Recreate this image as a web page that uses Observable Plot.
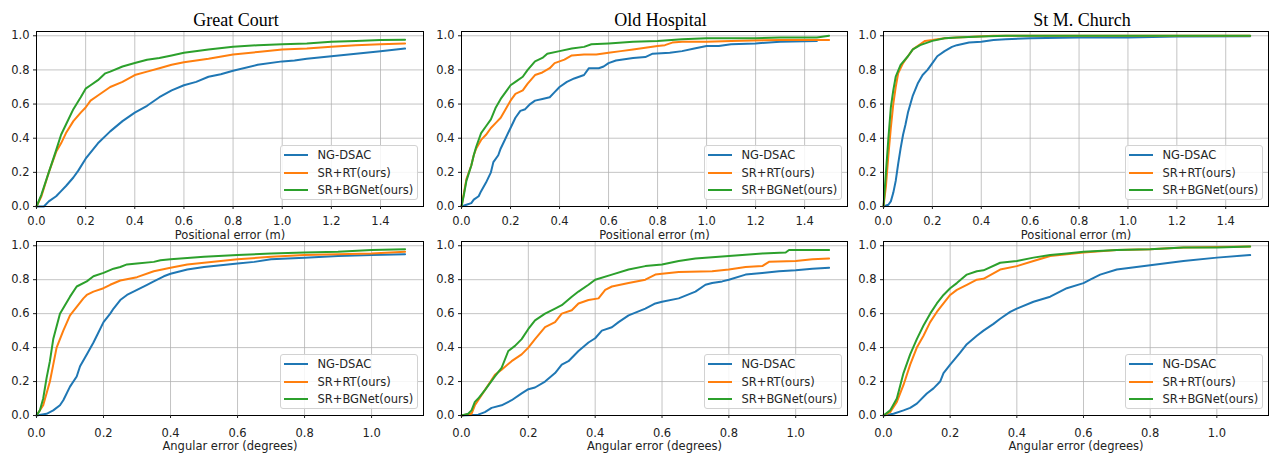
<!DOCTYPE html>
<html><head><meta charset="utf-8">
<script src="https://cdn.jsdelivr.net/npm/d3@7"></script>
<script src="https://cdn.jsdelivr.net/npm/@observablehq/plot@0.6"></script>
<style>
body{margin:0;background:#fff;}
#chart{position:relative;width:1273px;height:458px;overflow:hidden;background:#fff;}
.panel{position:absolute;}
.legend{position:absolute;width:138px;height:55px;box-sizing:border-box;background:rgba(255,255,255,0.85);border:1px solid #d2d2d2;border-radius:3px;font:11.5px "DejaVu Sans",sans-serif;color:#262626;padding-top:1px;}
.legend .row{height:17.5px;display:flex;align-items:center;white-space:nowrap;}
.legend .sw{width:24px;height:2px;margin-left:3px;margin-right:10px;flex:none;}
</style></head>
<body><div id="chart"></div>
<script>
const scenes = ["Great Court", "Old Hospital", "St M. Church"];
const methods = ["NG-DSAC", "SR+RT(ours)", "SR+BGNet(ours)"];
const colors = ["#1f77b4", "#ff7f0e", "#2ca02c"];
const yTicks = [0, 0.2, 0.4, 0.6, 0.8, 1.0];
const posTicks = [0, 0.2, 0.4, 0.6, 0.8, 1.0, 1.2, 1.4];
const angTicks = [0, 0.2, 0.4, 0.6, 0.8, 1.0];
const posLabel = "Positional error (m)";
const angLabel = "Angular error (degrees)";

// Great Court, positional
const gcPosNG = [[0,0],[0.03,0],[0.05,0.03],[0.08,0.06],[0.1,0.09],[0.12,0.12],[0.15,0.17],[0.17,0.21],[0.2,0.28],[0.25,0.37],[0.3,0.44],[0.35,0.5],[0.4,0.55],[0.45,0.59],[0.5,0.64],[0.55,0.68],[0.6,0.71],[0.65,0.73],[0.7,0.76],[0.75,0.775],[0.8,0.795],[0.9,0.83],[1.0,0.85],[1.05,0.855],[1.1,0.865],[1.2,0.88],[1.3,0.895],[1.4,0.91],[1.5,0.925]];
const gcPosRT = [[0,0],[0.02,0.06],[0.05,0.2],[0.08,0.32],[0.1,0.37],[0.12,0.43],[0.15,0.5],[0.18,0.55],[0.2,0.58],[0.22,0.62],[0.25,0.65],[0.3,0.7],[0.35,0.73],[0.4,0.77],[0.45,0.79],[0.5,0.81],[0.55,0.83],[0.6,0.845],[0.7,0.865],[0.8,0.89],[0.9,0.905],[1.0,0.92],[1.1,0.925],[1.2,0.935],[1.3,0.945],[1.4,0.95],[1.5,0.955]];
const gcPosBG = [[0,0],[0.02,0.07],[0.05,0.2],[0.08,0.33],[0.1,0.42],[0.12,0.48],[0.15,0.57],[0.18,0.64],[0.2,0.69],[0.22,0.71],[0.25,0.74],[0.28,0.78],[0.3,0.79],[0.35,0.82],[0.4,0.84],[0.45,0.86],[0.5,0.87],[0.55,0.885],[0.6,0.9],[0.7,0.92],[0.8,0.935],[0.9,0.945],[1.0,0.95],[1.1,0.955],[1.2,0.965],[1.3,0.97],[1.4,0.975],[1.5,0.977]];
// Old Hospital, positional
const ohPosNG = [[0,0],[0.02,0.01],[0.04,0.02],[0.05,0.04],[0.07,0.06],[0.08,0.09],[0.1,0.14],[0.12,0.2],[0.13,0.26],[0.15,0.3],[0.16,0.34],[0.18,0.4],[0.2,0.46],[0.22,0.52],[0.24,0.56],[0.26,0.57],[0.28,0.6],[0.3,0.62],[0.33,0.63],[0.36,0.64],[0.38,0.67],[0.4,0.7],[0.43,0.73],[0.46,0.75],[0.5,0.77],[0.52,0.81],[0.56,0.81],[0.58,0.82],[0.6,0.84],[0.63,0.855],[0.7,0.87],[0.75,0.875],[0.78,0.895],[0.85,0.9],[0.9,0.91],[0.95,0.925],[1.0,0.94],[1.05,0.94],[1.1,0.95],[1.2,0.955],[1.3,0.965],[1.45,0.97]];
const ohPosRT = [[0,0],[0.01,0.08],[0.02,0.16],[0.04,0.24],[0.05,0.3],[0.06,0.34],[0.08,0.39],[0.1,0.42],[0.12,0.46],[0.14,0.49],[0.16,0.52],[0.18,0.57],[0.2,0.62],[0.22,0.66],[0.25,0.68],[0.27,0.72],[0.3,0.77],[0.33,0.785],[0.36,0.81],[0.38,0.84],[0.4,0.85],[0.42,0.86],[0.45,0.885],[0.5,0.89],[0.55,0.89],[0.6,0.9],[0.65,0.91],[0.7,0.92],[0.75,0.93],[0.8,0.94],[0.83,0.945],[0.86,0.96],[0.9,0.965],[1.0,0.965],[1.1,0.97],[1.3,0.975],[1.5,0.975]];
const ohPosBG = [[0,0],[0.01,0.07],[0.02,0.15],[0.04,0.24],[0.05,0.3],[0.06,0.35],[0.08,0.43],[0.1,0.47],[0.12,0.51],[0.14,0.58],[0.16,0.63],[0.18,0.67],[0.2,0.71],[0.22,0.73],[0.25,0.76],[0.27,0.8],[0.3,0.85],[0.33,0.87],[0.35,0.895],[0.4,0.91],[0.45,0.925],[0.5,0.935],[0.53,0.95],[0.6,0.955],[0.7,0.965],[0.8,0.97],[0.9,0.98],[1.0,0.985],[1.2,0.985],[1.3,0.99],[1.45,0.99],[1.5,1.0]];
// St M. Church, positional
const smPosNG = [[0,0],[0.02,0.01],[0.03,0.03],[0.04,0.08],[0.05,0.15],[0.06,0.25],[0.07,0.34],[0.08,0.42],[0.09,0.48],[0.1,0.55],[0.12,0.65],[0.14,0.72],[0.16,0.77],[0.18,0.8],[0.2,0.84],[0.22,0.88],[0.25,0.91],[0.28,0.935],[0.3,0.945],[0.35,0.96],[0.4,0.965],[0.45,0.975],[0.5,0.98],[0.6,0.985],[0.8,0.99],[1.0,0.99],[1.2,0.995],[1.5,0.997]];
const smPosRT = [[0,0],[0.01,0.12],[0.02,0.3],[0.03,0.46],[0.04,0.6],[0.05,0.7],[0.06,0.78],[0.08,0.84],[0.1,0.88],[0.12,0.92],[0.15,0.95],[0.17,0.97],[0.2,0.975],[0.25,0.985],[0.3,0.99],[0.45,1.0],[1.5,1.0]];
const smPosBG = [[0,0],[0.01,0.2],[0.02,0.4],[0.03,0.58],[0.04,0.68],[0.05,0.76],[0.07,0.83],[0.1,0.88],[0.12,0.92],[0.15,0.945],[0.2,0.97],[0.25,0.985],[0.3,0.99],[0.4,0.995],[0.5,1.0],[1.5,1.0]];
// Great Court, angular
const gcAngNG = [[0,0],[0.03,0.01],[0.05,0.03],[0.07,0.06],[0.08,0.09],[0.1,0.17],[0.12,0.23],[0.13,0.29],[0.15,0.36],[0.17,0.43],[0.18,0.47],[0.2,0.55],[0.22,0.6],[0.23,0.63],[0.25,0.68],[0.27,0.71],[0.3,0.74],[0.33,0.77],[0.35,0.79],[0.38,0.82],[0.4,0.835],[0.45,0.86],[0.5,0.875],[0.55,0.885],[0.6,0.895],[0.65,0.905],[0.7,0.92],[0.8,0.93],[0.9,0.94],[1.0,0.945],[1.1,0.95]];
const gcAngRT = [[0,0],[0.02,0.06],[0.04,0.2],[0.05,0.3],[0.06,0.4],[0.08,0.5],[0.1,0.59],[0.12,0.64],[0.14,0.69],[0.15,0.71],[0.17,0.73],[0.2,0.75],[0.22,0.77],[0.25,0.795],[0.3,0.815],[0.35,0.85],[0.4,0.87],[0.45,0.89],[0.5,0.9],[0.6,0.92],[0.7,0.935],[0.8,0.945],[0.9,0.95],[1.0,0.955],[1.1,0.965]];
const gcAngBG = [[0,0],[0.01,0.03],[0.02,0.1],[0.03,0.22],[0.04,0.32],[0.05,0.45],[0.07,0.6],[0.1,0.7],[0.12,0.76],[0.15,0.79],[0.17,0.82],[0.2,0.84],[0.23,0.865],[0.25,0.875],[0.27,0.89],[0.3,0.895],[0.35,0.905],[0.37,0.915],[0.4,0.92],[0.5,0.935],[0.6,0.945],[0.7,0.955],[0.8,0.96],[0.9,0.965],[1.0,0.975],[1.1,0.98]];
// Old Hospital, angular
const ohAngNG = [[0,0],[0.05,0.005],[0.07,0.02],[0.09,0.045],[0.12,0.06],[0.15,0.09],[0.18,0.13],[0.2,0.155],[0.22,0.165],[0.25,0.2],[0.28,0.25],[0.3,0.3],[0.32,0.32],[0.35,0.38],[0.38,0.43],[0.4,0.455],[0.42,0.5],[0.45,0.52],[0.47,0.55],[0.5,0.59],[0.55,0.63],[0.58,0.66],[0.6,0.67],[0.65,0.69],[0.7,0.73],[0.73,0.77],[0.75,0.78],[0.78,0.79],[0.8,0.8],[0.85,0.83],[0.9,0.84],[0.95,0.85],[1.0,0.855],[1.05,0.865],[1.1,0.87]];
const ohAngRT = [[0,0],[0.03,0.01],[0.04,0.06],[0.06,0.12],[0.08,0.18],[0.1,0.24],[0.12,0.27],[0.15,0.32],[0.18,0.36],[0.2,0.4],[0.22,0.45],[0.25,0.52],[0.28,0.55],[0.3,0.6],[0.33,0.62],[0.35,0.66],[0.38,0.68],[0.41,0.69],[0.43,0.74],[0.45,0.76],[0.5,0.78],[0.55,0.8],[0.58,0.83],[0.6,0.835],[0.65,0.845],[0.75,0.85],[0.8,0.86],[0.85,0.875],[0.9,0.88],[0.92,0.905],[1.0,0.91],[1.05,0.92],[1.1,0.925]];
const ohAngBG = [[0,0],[0.02,0.01],[0.03,0.03],[0.04,0.08],[0.05,0.1],[0.07,0.15],[0.1,0.23],[0.12,0.28],[0.14,0.38],[0.16,0.41],[0.18,0.45],[0.2,0.51],[0.22,0.56],[0.25,0.6],[0.28,0.63],[0.3,0.65],[0.33,0.7],[0.35,0.73],[0.38,0.77],[0.4,0.8],[0.45,0.83],[0.5,0.86],[0.55,0.88],[0.6,0.89],[0.65,0.91],[0.7,0.925],[0.8,0.94],[0.9,0.955],[0.97,0.96],[0.98,0.975],[1.1,0.975]];
// St M. Church, angular
const smAngNG = [[0,0],[0.03,0.01],[0.06,0.03],[0.08,0.045],[0.1,0.07],[0.13,0.13],[0.15,0.16],[0.17,0.2],[0.18,0.25],[0.2,0.3],[0.23,0.37],[0.25,0.42],[0.28,0.47],[0.3,0.5],[0.33,0.54],[0.35,0.57],[0.38,0.61],[0.4,0.63],[0.45,0.67],[0.5,0.7],[0.55,0.75],[0.6,0.78],[0.62,0.8],[0.65,0.83],[0.7,0.86],[0.8,0.885],[0.9,0.91],[1.0,0.93],[1.1,0.945]];
const smAngRT = [[0,0],[0.02,0.02],[0.04,0.08],[0.06,0.18],[0.08,0.3],[0.1,0.4],[0.12,0.47],[0.14,0.55],[0.16,0.61],[0.18,0.66],[0.2,0.71],[0.22,0.74],[0.25,0.77],[0.28,0.8],[0.3,0.805],[0.35,0.86],[0.4,0.88],[0.45,0.91],[0.5,0.94],[0.55,0.95],[0.6,0.96],[0.7,0.975],[0.8,0.98],[0.9,0.99],[1.1,0.995]];
const smAngBG = [[0,0],[0.02,0.03],[0.04,0.1],[0.06,0.25],[0.08,0.36],[0.1,0.45],[0.12,0.53],[0.14,0.6],[0.16,0.66],[0.18,0.71],[0.2,0.75],[0.22,0.78],[0.25,0.83],[0.28,0.85],[0.3,0.855],[0.35,0.9],[0.4,0.91],[0.45,0.93],[0.5,0.945],[0.55,0.955],[0.6,0.965],[0.7,0.975],[0.8,0.98],[0.9,0.99],[1.0,0.99],[1.1,0.995]];

const fmt = d3.format(".1f");
const chart = document.getElementById("chart");

function toRows(seriesList) {
  const rows = [];
  seriesList.forEach((s, i) => s.forEach(([x, y]) => rows.push({x, y, method: methods[i]})));
  return rows;
}

function panel(cfg) {
  const plot = Plot.plot({
    width: cfg.width, height: cfg.height,
    marginTop: cfg.mt, marginBottom: cfg.mb, marginLeft: cfg.ml, marginRight: cfg.mr,
    style: {background: "transparent", overflow: "visible", fontFamily: "DejaVu Sans, sans-serif", fontSize: "11.5px", color: "#222"},
    x: {domain: cfg.xDomain},
    y: {domain: [0, 1.025]},
    color: {domain: methods, range: colors},
    marks: [
      Plot.gridX(cfg.xTicks, {stroke: "#b0b0b0", strokeOpacity: 0.75, strokeWidth: 1}),
      Plot.gridY(yTicks, {stroke: "#b0b0b0", strokeOpacity: 0.75, strokeWidth: 1}),
      Plot.line(toRows(cfg.series), {x: "x", y: "y", stroke: "method", z: "method", strokeWidth: 2}),
      Plot.frame({stroke: "#000", strokeWidth: 1}),
      Plot.axisX({ticks: cfg.xTicks, tickFormat: fmt, tickSize: 3, tickPadding: cfg.xPad, label: null, fontSize: 11.5}),
      Plot.axisY({ticks: yTicks, tickFormat: fmt, tickSize: 3, tickPadding: 4, label: null, fontSize: 11.5}),
      Plot.text([cfg.xLabel], {text: d => d, frameAnchor: "bottom", dy: cfg.labelDy, fontSize: 11.5, fill: "#222"}),
      ...(cfg.title ? [Plot.text([cfg.title], {text: d => d, frameAnchor: "top", dx: 6, dy: -18, fontSize: 18, fontFamily: "Liberation Serif, Times New Roman, serif", fill: "#000"})] : [])
    ]
  });
  plot.classList.add("panel");
  plot.style.left = cfg.left + "px";
  plot.style.top = cfg.top + "px";
  chart.appendChild(plot);

  const lg = document.createElement("div");
  lg.className = "legend";
  const frameRight = cfg.left + cfg.width - cfg.mr;
  const frameBottom = cfg.top + cfg.height - cfg.mb;
  lg.style.left = (frameRight - 5.5 - 138) + "px";
  lg.style.top = (frameBottom - 6.5 - 55) + "px";
  methods.forEach((m, i) => {
    const row = document.createElement("div");
    row.className = "row";
    const sw = document.createElement("span");
    sw.className = "sw";
    sw.style.background = colors[i];
    const tx = document.createElement("span");
    tx.textContent = m;
    row.appendChild(sw); row.appendChild(tx);
    lg.appendChild(row);
  });
  chart.appendChild(lg);
}

const cols = [
  {left: 0, width: 425, ml: 36, mr: 2},
  {left: 425, width: 424, ml: 36, mr: 2},
  {left: 849, width: 424, ml: 34, mr: 5}
];
const topSeries = [[gcPosNG, gcPosRT, gcPosBG], [ohPosNG, ohPosRT, ohPosBG], [smPosNG, smPosRT, smPosBG]];
const botSeries = [[gcAngNG, gcAngRT, gcAngBG], [ohAngNG, ohAngRT, ohAngBG], [smAngNG, smAngRT, smAngBG]];

cols.forEach((c, i) => {
  panel({...c, top: 0, height: 240, mt: 31, mb: 34, xDomain: [0, 1.575], xTicks: posTicks, xLabel: posLabel, title: scenes[i], series: topSeries[i], xPad: 7, labelDy: 32});
  panel({...c, top: 236, height: 222, mt: 5, mb: 43, xDomain: [0, 1.155], xTicks: angTicks, xLabel: angLabel, title: null, series: botSeries[i], xPad: 10, labelDy: 34});
});
</script>
</body></html>
